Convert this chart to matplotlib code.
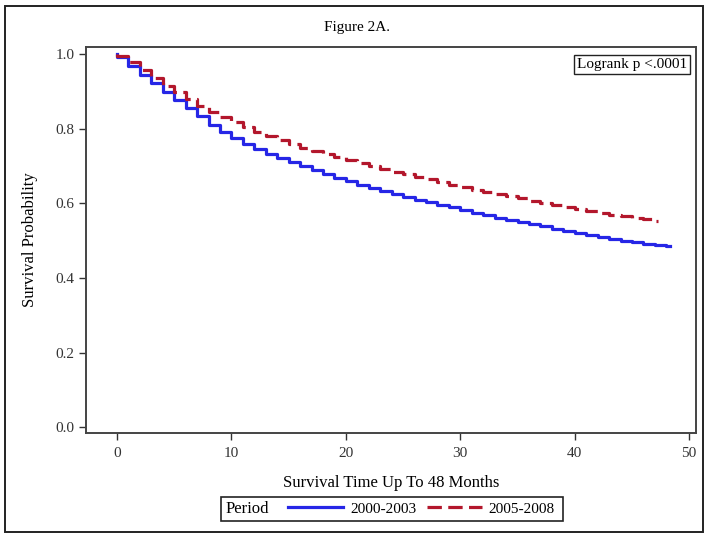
import matplotlib
matplotlib.use("Agg")
import matplotlib.pyplot as plt
from matplotlib.patches import Rectangle

plt.rcParams["font.family"] = ["Liberation Serif", "DejaVu Serif"]

# Kaplan-Meier estimates, one value per month interval
months_a = list(range(49))
surv_a = [0.992, 0.968, 0.945, 0.922, 0.899, 0.877, 0.855, 0.833, 0.811, 0.791,
          0.775, 0.760, 0.746, 0.733, 0.721, 0.710, 0.700, 0.689, 0.679, 0.669,
          0.659, 0.650, 0.641, 0.633, 0.625, 0.617, 0.610, 0.603, 0.596, 0.589,
          0.582, 0.575, 0.569, 0.562, 0.556, 0.550, 0.544, 0.538, 0.532, 0.526,
          0.520, 0.515, 0.510, 0.505, 0.500, 0.496, 0.492, 0.488, 0.485]
end_a = 48.3

months_b = list(range(48))
surv_b = [0.994, 0.979, 0.957, 0.935, 0.914, 0.897, 0.879, 0.861, 0.846, 0.832,
          0.818, 0.805, 0.792, 0.780, 0.769, 0.759, 0.749, 0.740, 0.731, 0.723,
          0.715, 0.707, 0.699, 0.692, 0.685, 0.678, 0.671, 0.664, 0.657, 0.650,
          0.643, 0.637, 0.631, 0.625, 0.619, 0.613, 0.607, 0.601, 0.595, 0.590,
          0.585, 0.580, 0.575, 0.570, 0.566, 0.562, 0.558, 0.554]
end_b = 47.3

labels = ["2000-2003", "2005-2008"]
x_ticks = [0, 10, 20, 30, 40, 50]
y_ticks = [0.0, 0.2, 0.4, 0.6, 0.8, 1.0]

BLUE = "#2626e6"
RED = "#b3172c"
SPINE = "#444444"


def km_path(months, surv, end):
    # start at 1.0, hold last value until the end of follow-up
    xs = [0] + months + [end]
    ys = [1.0] + surv + [surv[-1]]
    return xs, ys


fig = plt.figure(figsize=(7.13, 5.38), dpi=100)
ax = fig.add_axes([0.1206, 0.1952, 0.8556, 0.7174])

xa, ya = km_path(months_a, surv_a, end_a)
xb, yb = km_path(months_b, surv_b, end_b)
line_a, = ax.step(xa, ya, where="post", color=BLUE, lw=2.3)
line_b, = ax.step(xb, yb, where="post", color=RED, lw=2.3,
                  linestyle=(0, (4.5, 2.0)))

ax.set_xlim(-2.71, 50.6)
ax.set_ylim(-0.0153, 1.0188)
ax.set_xticks(x_ticks)
ax.set_yticks(y_ticks)
ax.set_yticklabels([f"{v:.1f}" for v in y_ticks])
ax.tick_params(direction="out", length=5, width=1, colors="#333333",
               labelsize=11, pad=3.5)
ax.tick_params(axis="x", pad=5)
for s in ax.spines.values():
    s.set_color(SPINE)
    s.set_linewidth(1.4)

ax.set_xlabel("Survival Time Up To 48 Months", fontsize=12)
ax.xaxis.set_label_coords(0.5, -0.11)
ax.set_ylabel("Survival Probability", fontsize=12)
ax.yaxis.set_label_coords(-0.078, 0.5)

ax.text(0.985, 0.955, "Logrank p <.0001", transform=ax.transAxes,
        ha="right", va="center", fontsize=11,
        bbox=dict(boxstyle="square,pad=0.2", fc="white", ec="#222222", lw=1))

fig.text(0.5, 0.948, "Figure 2A.", ha="center", va="center", fontsize=11)

# legend row at the bottom, boxed
fig.legend([line_a, line_b], labels, ncol=2, loc="center",
           bbox_to_anchor=(0.591, 0.054), frameon=False, fontsize=11,
           handlelength=3.6, handletextpad=0.45, columnspacing=0.7)
fig.text(0.316, 0.054, "Period", ha="left", va="center", fontsize=12)
fig.add_artist(Rectangle((0.310, 0.0316), 0.4797, 0.0446, transform=fig.transFigure,
                         fill=False, ec="#222222", lw=1.2))

# outer frame around the whole figure
fig.add_artist(Rectangle((0.007, 0.011), 0.979, 0.978, transform=fig.transFigure,
                         fill=False, ec="#222222", lw=1.4))

fig.savefig("out.png", dpi=100)
